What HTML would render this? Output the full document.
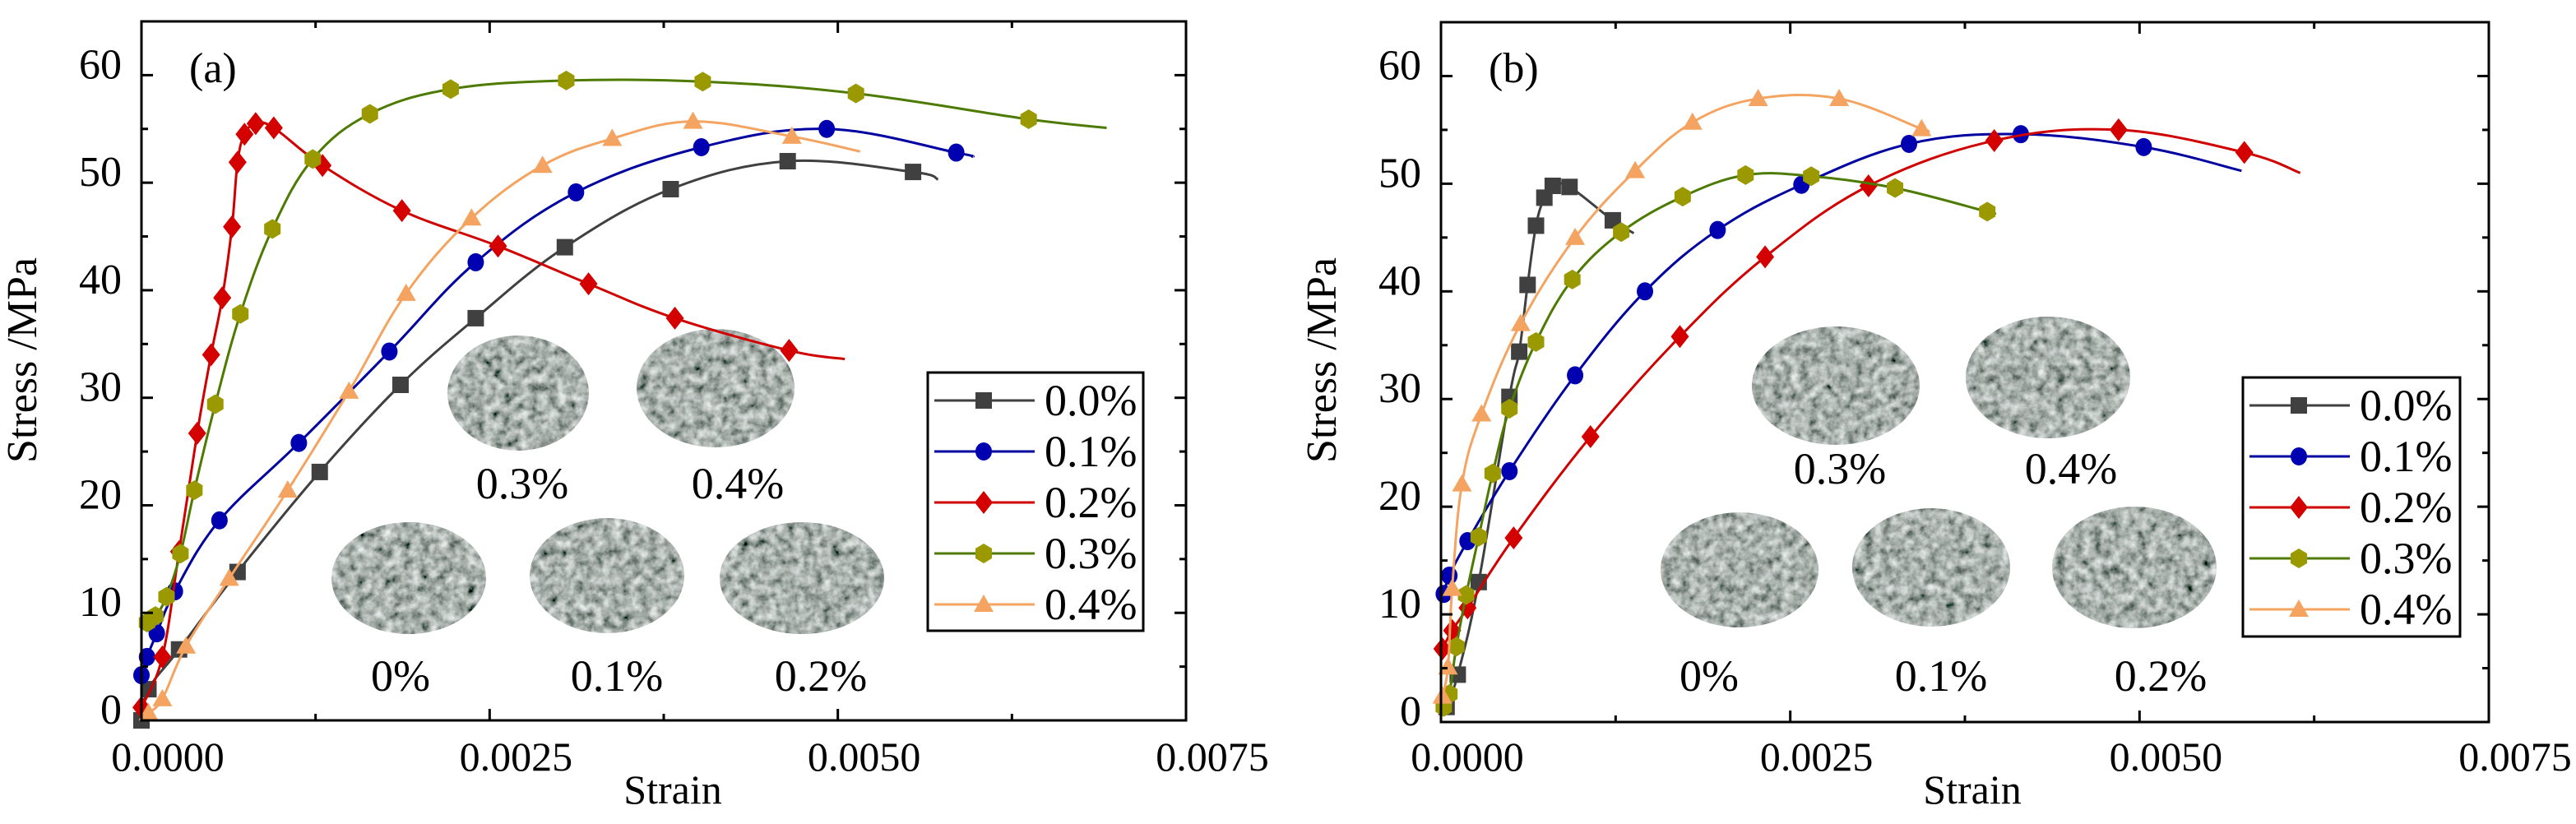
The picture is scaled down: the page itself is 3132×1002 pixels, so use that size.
<!DOCTYPE html>
<html><head><meta charset="utf-8"><style>
html,body{margin:0;padding:0;background:#fff;}
svg{display:block;}
svg text{font-family:"Liberation Serif","DejaVu Serif","Times New Roman",serif;}
</style></head><body>
<svg id="c" width="3132" height="1002" viewBox="0 0 3132 1002" xmlns="http://www.w3.org/2000/svg">
<defs>
<filter id="gravel" x="0" y="0" width="100%" height="100%">
<feTurbulence type="fractalNoise" baseFrequency="0.09" numOctaves="3" seed="4" result="n"/>
<feColorMatrix in="n" type="matrix" values="1.0 0.4 0 0 -0.3  1.0 0.4 0 0 -0.26  1.0 0.4 0 0 -0.28  0 0 0 0 1" result="g"/>
<feComposite in="g" in2="SourceGraphic" operator="in"/>
</filter>
</defs>
</svg>
<script>
const seriesNames = ['0.0%','0.1%','0.2%','0.3%','0.4%'];
const xTicks = [0,0.0025,0.005,0.0075];
const xTickLabels = ['0.0000','0.0025','0.0050','0.0075'];
const yTicks = [0,10,20,30,40,50,60];
const yTickLabels = ['0','10','20','30','40','50','60'];
const a00 = [[0,0],[0.00005,2.9],[0.00027,6.6],[0.00069,13.8],[0.00128,23.1],[0.00186,31.2],[0.0024,37.4],[0.00304,44.0],[0.0038,49.4],[0.00464,52.0],[0.00554,51.0],[0.00572,50.3]];
const a01 = [[0,4.2],[0.00004,5.9],[0.00011,8.1],[0.00024,12.0],[0.00056,18.6],[0.00113,25.8],[0.00178,34.3],[0.0024,42.6],[0.00312,49.1],[0.00402,53.3],[0.00492,55.0],[0.00585,52.8],[0.00597,52.4]];
const a02 = [[0,1.2],[0.00015,5.9],[0.00027,15.7],[0.0004,26.7],[0.0005,34.0],[0.00058,39.3],[0.00065,45.9],[0.00069,51.9],[0.00074,54.5],[0.00082,55.5],[0.00095,55.1],[0.0013,51.6],[0.00187,47.4],[0.00256,44.1],[0.00321,40.6],[0.00383,37.4],[0.00465,34.4],[0.00505,33.6]];
const a03 = [[0.00004,9.1],[0.0001,9.7],[0.00018,11.5],[0.00028,15.5],[0.00038,21.4],[0.00053,29.4],[0.00071,37.8],[0.00094,45.7],[0.00123,52.2],[0.00164,56.4],[0.00222,58.7],[0.00305,59.5],[0.00403,59.4],[0.00513,58.3],[0.00637,55.9],[0.00693,55.1]];
const a04 = [[0.00005,0.7],[0.00015,2.0],[0.00032,6.9],[0.00063,13.2],[0.00105,21.4],[0.00149,30.6],[0.0019,39.7],[0.00237,46.7],[0.00288,51.6],[0.00338,54.1],[0.00396,55.7],[0.00467,54.3],[0.00516,52.9]];
const b00 = [[0.00004,1.4],[0.00012,4.4],[0.00027,13.0],[0.00049,30.2],[0.00056,34.4],[0.00062,40.6],[0.00068,46.1],[0.00074,48.7],[0.0008,49.8],[0.00092,49.7],[0.00123,46.6],[0.00138,45.4]];
const b01 = [[0.00002,11.9],[0.00006,13.6],[0.00019,16.8],[0.00049,23.3],[0.00096,32.2],[0.00146,40.0],[0.00198,45.7],[0.00258,49.9],[0.00335,53.7],[0.00415,54.6],[0.00503,53.4],[0.00573,51.2]];
const b02 = [[0.00001,6.8],[0.00008,8.5],[0.00019,10.6],[0.00052,17.1],[0.00107,26.5],[0.00171,35.8],[0.00232,43.2],[0.00306,49.8],[0.00396,54.0],[0.00485,55.0],[0.00575,52.9],[0.00615,51.0]];
const b03 = [[0.00002,1.4],[0.00006,2.6],[0.00011,7.0],[0.00018,11.8],[0.00027,17.2],[0.00037,23.1],[0.00049,29.1],[0.00068,35.3],[0.00094,41.1],[0.00129,45.5],[0.00173,48.8],[0.00218,50.8],[0.00265,50.7],[0.00325,49.6],[0.00391,47.4],[0.00392,47.4]];
const b04 = [[0.00001,2.4],[0.00005,5.1],[0.00008,12.4],[0.00015,22.1],[0.00029,28.6],[0.00057,37.0],[0.00096,45.0],[0.00139,51.2],[0.0018,55.7],[0.00227,57.9],[0.00285,57.9],[0.00344,55.1],[0.00345,55.1]];

const NS='http://www.w3.org/2000/svg';
const svg=document.getElementById('c');
const styles=[
 {line:'#404040',fill:'#404040',m:'square'},
 {line:'#0000a0',fill:'#0000b0',m:'circle'},
 {line:'#d00000',fill:'#d40000',m:'diamond'},
 {line:'#4d7a00',fill:'#9a9a00',m:'hex'},
 {line:'#f4a460',fill:'#f4a460',m:'tri'}];
function el(tag,attrs,parent){const e=document.createElementNS(NS,tag);for(const k in attrs)e.setAttribute(k,attrs[k]);(parent||svg).appendChild(e);return e;}
function marker(g,m,x,y,fill){
 let e;
 if(m==='square')e=el('rect',{x:x-10,y:y-10,width:20,height:20,fill:fill},g);
 else if(m==='circle')e=el('ellipse',{cx:x,cy:y,rx:10,ry:11,fill:fill},g);
 else if(m==='diamond')e=el('polygon',{points:`${x},${y-14} ${x+11},${y} ${x},${y+14} ${x-11},${y}`,fill:fill},g);
 else if(m==='hex')e=el('polygon',{points:`${x},${y-12} ${x+10},${y-6} ${x+10},${y+6} ${x},${y+12} ${x-10},${y+6} ${x-10},${y-6}`,fill:fill},g);
 else e=el('polygon',{points:`${x},${y-12} ${x+12},${y+9} ${x-12},${y+9}`,fill:fill},g);
 
 
}
function smooth(pts){
 let d=`M${pts[0][0]},${pts[0][1]}`;
 for(let i=0;i<pts.length-1;i++){
  const p0=pts[Math.max(0,i-1)],p1=pts[i],p2=pts[i+1],p3=pts[Math.min(pts.length-1,i+2)];
  const t=0.18;
  const c1=[p1[0]+(p2[0]-p0[0])*t,p1[1]+(p2[1]-p0[1])*t];
  const c2=[p2[0]-(p3[0]-p1[0])*t,p2[1]-(p3[1]-p1[1])*t];
  d+=` C${c1[0]},${c1[1]} ${c2[0]},${c2[1]} ${p2[0]},${p2[1]}`;
 }
 return d;
}
function panel(cfg){
 const {L,R,T,B,series,label,legend,photos,name}=cfg;
 const g=el('g',{});
 
 
 const sx=v=>L+(v/0.0075)*(R-L);
 const sy=v=>B-(v/65)*(B-T);
 photos.forEach(p=>{
  const e=el('ellipse',{cx:p[0],cy:p[1],rx:p[2],ry:p[3],fill:'#777',filter:'url(#gravel)'},g);
  
  
  const t=el('text',{x:p[0]+p[5],y:p[6],'font-size':54,'text-anchor':'middle',fill:'#000'},g);
  t.textContent=p[4];
  
  
 });
 series.forEach((s,i)=>{
  const st=styles[i];
  const pts=s.map(p=>[sx(p[0]),sy(p[1])]);
  const sg=el('g',{},g);
  
  
  el('path',{d:smooth(pts),fill:'none',stroke:st.line,'stroke-width':3},sg);
  pts.slice(0,-1).forEach(p=>marker(sg,st.m,p[0],p[1],st.fill));
 });
 const fr=el('rect',{x:L,y:T,width:R-L,height:B-T,fill:'none',stroke:'#000','stroke-width':3},g);
 
 
 xTicks.forEach((v,i)=>{
  const x=sx(v);
  el('line',{x1:x,y1:B,x2:x,y2:B-14,stroke:'#000','stroke-width':3},g);
  el('line',{x1:x,y1:T,x2:x,y2:T+14,stroke:'#000','stroke-width':3},g);
  if(i<xTicks.length-1){const xm=sx(v+0.00125);
   el('line',{x1:xm,y1:B,x2:xm,y2:B-8,stroke:'#000','stroke-width':3},g);
   el('line',{x1:xm,y1:T,x2:xm,y2:T+8,stroke:'#000','stroke-width':3},g);}
  const t=el('text',{x:x+32,y:937,'font-size':50,'text-anchor':'middle'},g);
  t.textContent=xTickLabels[i];
  
  
 });
 yTicks.forEach((v,i)=>{
  const y=sy(v);
  el('line',{x1:L,y1:y,x2:L+14,y2:y,stroke:'#000','stroke-width':3},g);
  el('line',{x1:R,y1:y,x2:R-14,y2:y,stroke:'#000','stroke-width':3},g);
  const ym=sy(v+5);
  el('line',{x1:L,y1:ym,x2:L+8,y2:ym,stroke:'#000','stroke-width':3},g);
  el('line',{x1:R,y1:ym,x2:R-8,y2:ym,stroke:'#000','stroke-width':3},g);
  const t=el('text',{x:L-24,y:y+4,'font-size':52,'text-anchor':'end'},g);
  t.textContent=yTickLabels[i];
  
  
 });
 const yt=el('text',{x:0,y:0,'font-size':52,'text-anchor':'middle',transform:`translate(${L-128},438) rotate(-90)`},g);
 yt.textContent='Stress /MPa';
 
 
 const xt=el('text',{x:L+646,y:977,'font-size':50,'text-anchor':'middle'},g);
 xt.textContent='Strain';
 
 
 const pl=el('text',{x:L+58,y:100,'font-size':52},g);
 pl.textContent=label;
 
 
 const lg=el('g',{},g);
 
 
 el('rect',{x:legend.x,y:legend.y,width:legend.w,height:legend.h,fill:'#fff',stroke:'#000','stroke-width':3},lg);
 seriesNames.forEach((n,i)=>{
  const y=legend.y+34+i*62;const st=styles[i];
  const eg=el('g',{},lg);
  
  
  el('line',{x1:legend.x+8,y1:y,x2:legend.x+130,y2:y,stroke:st.line,'stroke-width':3},eg);
  marker(eg,st.m,legend.x+68,y,st.fill);
  const t=el('text',{x:legend.x+142,y:y+18,'font-size':54},eg);
  t.textContent=n;
 });
}
panel({name:'panel-a',L:172,R:1442,T:26,B:876,label:'(a)',series:[a00,a01,a02,a03,a04],
 legend:{x:1128,y:453,w:262,h:314},
 photos:[[630,478,86,70,'0.3%',5,606],[870,472,96,72,'0.4%',27,606],[497,703,94,68,'0%',-10,840],[738,700,94,70,'0.1%',12,840],[975,703,100,68,'0.2%',23,840]]});
panel({name:'panel-b',L:1752,R:3026,T:27,B:878,label:'(b)',series:[b00,b01,b02,b03,b04],
 legend:{x:2727,y:459,w:264,h:315},
 photos:[[2232,469,102,72,'0.3%',5,588],[2490,459,100,74,'0.4%',28,588],[2115,693,96,70,'0%',-37,840],[2348,690,96,72,'0.1%',12,840],[2595,690,100,74,'0.2%',32,840]]});
</script>
</body></html>
